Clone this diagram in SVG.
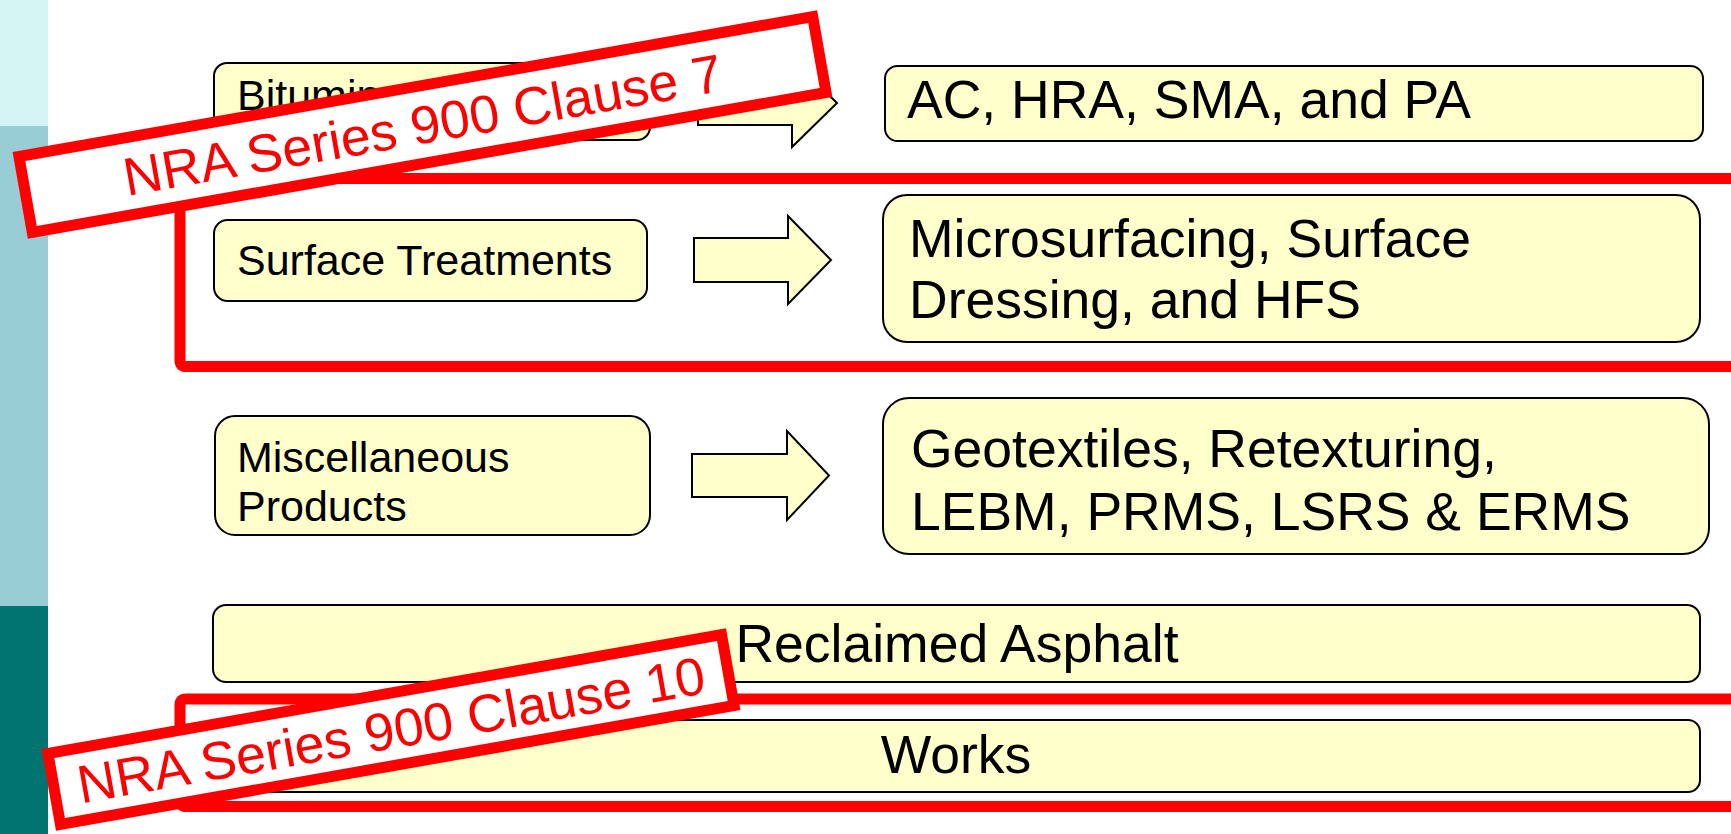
<svg xmlns="http://www.w3.org/2000/svg" width="1731" height="834" viewBox="0 0 1731 834">
<style>
.box{fill:#ffffcc;stroke:#000;stroke-width:2}
.arrow{fill:#ffffcc;stroke:#000;stroke-width:2;stroke-linejoin:miter}
.t{font-family:"Liberation Sans",Arial,sans-serif;fill:#000}
.s{font-size:43px}
.l{font-size:53.5px}
.frame{fill:none;stroke:#ff0000;stroke-width:11}
.tag rect{fill:#fff;stroke:#ff0000;stroke-width:11}
.tag text{font-family:"Liberation Sans",Arial,sans-serif;font-size:53.5px;fill:#ff0000;text-anchor:middle}
</style>
<rect width="1731" height="834" fill="#fff"/>
<g id="sidebar">
<rect x="0" y="0" width="48" height="126" fill="#d5f4f4"/>
<rect x="0" y="126" width="48" height="480" fill="#97ced5"/>
<rect x="0" y="606" width="48" height="228" fill="#00756f"/>
</g>
<g id="frames">
<path class="frame" d="M1740,178.5 H186 Q180,178.5 180,184.5 V360.5 Q180,366.5 186,366.5 H1740"/>
<path class="frame" d="M1740,699 H186 Q180,699 180,705 V800.5 Q180,806.5 186,806.5 H1740"/>
</g>
<g id="n-bituminous"><rect class="box" x="214" y="63" width="436" height="77" rx="13"/><text class="t s" x="237" y="110">Bituminous Mixtures</text></g>
<g id="n-surface"><rect class="box" x="214" y="220" width="433" height="81" rx="13.5"/><text class="t s" x="237" y="275">Surface Treatments</text></g>
<g id="n-misc"><rect class="box" x="215" y="416" width="435" height="119" rx="20"/><text class="t s" x="237" y="472">Miscellaneous</text><text class="t s" x="237" y="521">Products</text></g>
<g id="n-ac"><rect class="box" x="885" y="66" width="818" height="75" rx="12.5"/><text class="t l" x="907" y="118">AC, HRA, SMA, and PA</text></g>
<g id="n-micro"><rect class="box" x="883" y="195" width="817" height="147" rx="24"/><text class="t l" x="909" y="257">Microsurfacing, Surface</text><text class="t l" x="909" y="318">Dressing, and HFS</text></g>
<g id="n-geo"><rect class="box" x="883" y="398" width="826" height="156" rx="26"/><text class="t l" x="911" y="467">Geotextiles, Retexturing,</text><text class="t l" x="911" y="530">LEBM, PRMS, LSRS &amp; ERMS</text></g>
<g id="n-reclaimed"><rect class="box" x="213" y="605" width="1487" height="77" rx="13"/><text class="t l" x="957" y="662" text-anchor="middle">Reclaimed Asphalt</text></g>
<g id="n-works"><rect class="box" x="213" y="720" width="1487" height="72" rx="12"/><text class="t l" x="956" y="773" text-anchor="middle">Works</text></g>
<g id="connectors">
<path class="arrow" d="M698,81 H792 V59 L837,103 L792,147 V125 H698 Z"/>
<path class="arrow" d="M694,238 H788 V216 L831,260 L788,304 V282 H694 Z"/>
<path class="arrow" d="M692,454 H787 V431 L829,475.5 L787,520 V497 H692 Z"/>
</g>
<g id="tag-clause7" class="tag" transform="translate(422.5,124.5) rotate(-10)"><rect x="-403" y="-38.5" width="806" height="77"/><text x="0" y="19">NRA Series 900 Clause 7</text></g>
<g id="tag-clause10" class="tag" transform="translate(391,729.5) rotate(-10)"><rect x="-342" y="-36" width="684" height="72"/><text x="0" y="19">NRA Series 900 Clause 10</text></g>
</svg>
